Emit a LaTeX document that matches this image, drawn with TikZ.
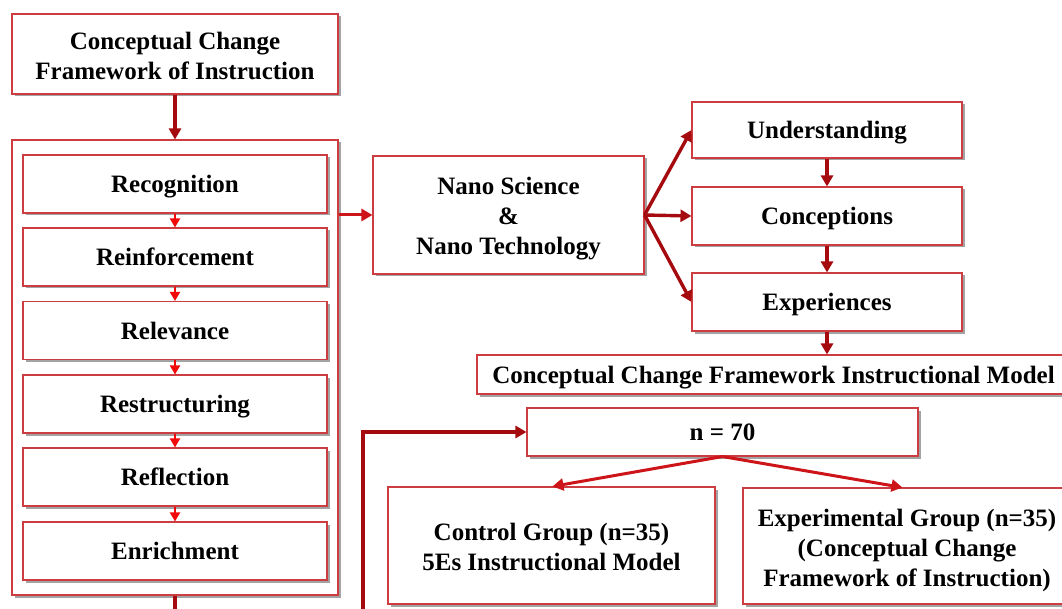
\documentclass[tikz,border=0pt]{standalone}
\usepackage{fontspec}
\setmainfont{Liberation Serif}
\usetikzlibrary{arrows.meta,shadows,calc}
\definecolor{boxred}{RGB}{205,60,65}
\definecolor{darkarr}{RGB}{165,10,15}
\definecolor{brightarr}{RGB}{240,10,10}
\definecolor{midarr}{RGB}{205,20,25}
\newcommand\mytopstrut[1]{\rule{0pt}{#1pt}}
\tikzset{
  box/.style={draw=boxred, line width=1.1pt, fill=white, align=center,
    inner sep=0pt,
    font=\bfseries\fontsize{25}{30}\selectfont,
    drop shadow={shadow xshift=2.5pt, shadow yshift=-2.5pt, fill=black!45, opacity=0.8}},
  onebox/.style={box, text height=17pt, text depth=0pt},
  bigarr/.style={draw=darkarr, line width=3.4pt, -{Triangle[length=11pt,width=12pt]}},
  smallarr/.style={draw=brightarr, line width=2pt, -{Triangle[length=9pt,width=10pt]}},
  grparr/.style={draw=midarr, line width=3pt, -{Triangle[length=11pt,width=12pt]}},
  plainline/.style={draw=darkarr, line width=3.6pt}
}
\begin{document}
\begin{tikzpicture}[x=1pt,y=-1pt]
\useasboundingbox (0,0) rectangle (1062,609);
% left column
\node[box, minimum width=326, minimum height=80] (title) at (175,54) {\mytopstrut{21}Conceptual Change\\Framework of Instruction};
\node[box, minimum width=326, minimum height=455] (cont) at (175,367.5) {};
\node[onebox, minimum width=304, minimum height=58] (r1) at (175,184) {Recognition};
\node[onebox, minimum width=304, minimum height=58] (r2) at (175,257) {Reinforcement};
\node[onebox, minimum width=304, minimum height=58] (r3) at (175,330.5) {Relevance};
\node[onebox, minimum width=304, minimum height=58] (r4) at (175,404) {Restructuring};
\node[onebox, minimum width=304, minimum height=58] (r5) at (175,477) {Reflection};
\node[onebox, minimum width=304, minimum height=58] (r6) at (175,551) {Enrichment};
% middle / right
\node[box, minimum width=271, minimum height=118] (nano) at (508.5,215) {\mytopstrut{25}Nano Science\\\&\\Nano Technology};
\node[onebox, minimum width=270, minimum height=56] (und) at (827,130) {Understanding};
\node[onebox, minimum width=270, minimum height=58] (conc) at (827,216) {Conceptions};
\node[onebox, minimum width=270, minimum height=58] (expr) at (827,302) {Experiences};
\node[onebox, minimum width=593, minimum height=39] (model) at (773.5,374.5) {Conceptual Change Framework Instructional Model};
\node[onebox, minimum width=391, minimum height=48] (n70) at (722.5,432) {n = 70};
\node[box, minimum width=327, minimum height=117] (ctrl) at (551.5,545.5) {\mytopstrut{21}Control Group (n=35)\\5Es Instructional Model};
\node[box, minimum width=328, minimum height=116] (expg) at (907,546) {\mytopstrut{26}Experimental Group (n=35)\\(Conceptual Change\\Framework of Instruction)};
% coordinates for free ends
\coordinate (bottomA) at (175,615);
\coordinate (bottomB) at (363,615);
% connectors
\draw[bigarr] (title.south) -- (cont.north);
\draw[smallarr] (r1.south) -- (r2.north);
\draw[smallarr] (r2.south) -- (r3.north);
\draw[smallarr] (r3.south) -- (r4.north);
\draw[smallarr] (r4.south) -- (r5.north);
\draw[smallarr] (r5.south) -- (r6.north);
\draw[plainline] (cont.south) -- (bottomA);
\draw[grparr] (cont.east |- nano.west) -- (nano.west);
\draw[bigarr] (nano.east) -- (und.west);
\draw[bigarr] (nano.east) -- (conc.west);
\draw[bigarr] (nano.east) -- (expr.west);
\draw[bigarr] (und.south) -- (conc.north);
\draw[bigarr] (conc.south) -- (expr.north);
\draw[bigarr] (expr.south) -- (expr.south |- model.north);
\draw[plainline, -{Triangle[length=11pt,width=12pt]}] (bottomB) |- (n70.west);
\draw[grparr] (n70.south) -- ($(ctrl.north west)+(165,0)$);
\draw[grparr] (n70.south) -- ($(expg.north west)+(160,0)$);
\end{tikzpicture}
\end{document}
